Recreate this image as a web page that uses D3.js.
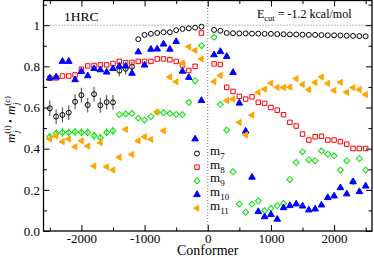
<!DOCTYPE html>
<html>
<head>
<meta charset="utf-8">
<script src="https://cdn.jsdelivr.net/npm/d3@7"></script>
<style>
  body { margin: 0; background: #fff; }
  svg { display: block; }
  text { font-family: "Liberation Serif", "Times New Roman", serif; fill: #000; }
</style>
</head>
<body>
<svg id="chart" width="374" height="256"></svg>
<script>
// conformer index (x), left branch then right branch
const conformers = [-2500, -2400, -2300, -2200, -2100, -2000, -1900, -1800, -1700, -1600,
  -1500, -1400, -1300, -1200, -1100, -1000, -900, -800, -700, -600, -500, -400, -300, -200, -100,
  100, 200, 300, 400, 500, 600, 700, 800, 900, 1000, 1100, 1200, 1300, 1400, 1500,
  1600, 1700, 1800, 1900, 2000, 2100, 2200, 2300, 2400, 2500];

const m7 = [0.596, 0.556, 0.564, 0.575, 0.628, 0.660, 0.612, 0.665, 0.611, 0.626,
  0.625, 0.779, 0.788, 0.798, 0.932, 0.953, 0.958, 0.962, 0.966, 0.966, 0.976, 0.982, 0.985, 0.988, 0.993,
  0.977, 0.973, 0.962, 0.961, 0.960, 0.960, 0.959, 0.959, 0.958, 0.958, 0.957, 0.956, 0.955, 0.955, 0.954,
  0.953, 0.953, 0.952, 0.951, 0.951, 0.950, 0.949, 0.948, 0.947, 0.946];
const m7err = [0.038, 0.036, 0.036, 0.036, 0.036, 0.036, 0.036, 0.036, 0.036, 0.036,
  0.036, 0.028, 0.028, 0.026, null, null, null, null, null, null, null, null, null, null, null,
  null, null, null, null, null, null, null, null, null, null, null, null, null, null, null,
  null, null, null, null, null, null, null, null, null, null];

const m8 = [0.742, 0.744, 0.753, 0.753, 0.758, 0.786, 0.802, 0.804, 0.807, 0.807,
  0.814, 0.824, 0.818, 0.819, 0.824, 0.824, 0.824, 0.836, 0.836, 0.832, 0.824, 0.807, 0.780, 0.800, 0.962,
  0.812, 0.809, 0.698, 0.678, 0.654, 0.641, 0.652, 0.625, 0.620, 0.600, 0.587, 0.565, 0.528, 0.510, 0.471,
  0.442, 0.458, 0.460, 0.442, 0.442, 0.434, 0.422, 0.401, 0.401, 0.401];

const m9 = [0.458, 0.474, 0.479, 0.479, 0.482, 0.479, 0.479, 0.463, 0.453, 0.479,
  0.487, 0.566, 0.569, 0.571, 0.548, 0.539, 0.556, 0.577, 0.575, 0.571, 0.567, 0.565, 0.625, 0.730, 0.901,
  0.942, 0.615, 0.490, 0.288, 0.131, 0.091, 0.130, 0.146, 0.099, 0.110, 0.123, 0.134, 0.250, 0.333, 0.385,
  0.346, 0.341, 0.389, 0.374, 0.366, 0.296, 0.341, 0.240, 0.352, 0.296];
const m9err = [0.02, 0.02, 0.022, 0.02, 0.02, 0.02, 0.02, 0.022, 0.02, 0.02,
  0.02, null, null, null, null, null, null, null, null, null, null, null, null, null, null,
  null, null, null, null, null, null, null, null, null, null, null, null, null, null, null,
  null, null, null, null, null, null, null, null, null, null];

const m10 = [0.743, 0.748, 0.824, 0.824, 0.735, 0.775, 0.754, 0.789, 0.783, 0.772,
  0.789, 0.801, 0.801, 0.766, 0.870, 0.806, 0.883, 0.884, 0.908, 0.883, 0.920, 0.776, 0.746, 0.447, 0.634,
  0.856, 0.872, 0.848, 0.770, 0.621, 0.485, 0.261, 0.094, 0.069, 0.080, 0.057, 0.113, 0.123, 0.131, 0.121,
  0.102, 0.107, 0.126, 0.162, 0.170, 0.210, 0.180, 0.239, 0.191, 0.218];

const m11 = [0.447, 0.461, 0.434, 0.447, 0.409, 0.438, 0.413, 0.316, 0.429, 0.312,
  0.296, 0.358, 0.494, 0.372, 0.438, 0.458, 0.445, 0.579, 0.487, 0.748, 0.725, 0.816, 0.895, 0.877, 0.836,
  0.726, 0.756, 0.634, 0.641, 0.528, 0.467, 0.563, 0.673, 0.689, 0.718, 0.698, 0.698, 0.699, 0.740, 0.712,
  0.687, 0.721, 0.748, 0.717, 0.683, 0.722, 0.674, 0.697, 0.687, 0.663];

const xTicks = [-2000, -1000, 0, 1000, 2000];
const xMinorTicks = [-2500, -1500, -500, 500, 1500, 2500];
const yTicks = [0, 0.2, 0.4, 0.6, 0.8, 1];
const yMinorTicks = [0.1, 0.3, 0.5, 0.7, 0.9, 1.1];
const seriesNames = ["7", "8", "9", "10", "11"];

const svg = d3.select("#chart");
const W = 374, H = 256;
const margin = { top: 0.5, right: 2, bottom: 25, left: 43.5 };

const x = d3.scaleLinear().domain([-2600, 2600]).range([margin.left, W - margin.right]);
const y = d3.scaleLinear().domain([0, 1.12]).range([H - margin.bottom, margin.top]);

// reference lines at x=0 and y=1
svg.append("line")
  .attr("x1", x(0)).attr("x2", x(0)).attr("y1", y(0)).attr("y2", y(1.12))
  .attr("stroke", "#777").attr("stroke-width", 1).attr("stroke-dasharray", "1,2");
svg.append("line")
  .attr("x1", x(-2600)).attr("x2", x(2600)).attr("y1", y(1)).attr("y2", y(1))
  .attr("stroke", "#777").attr("stroke-width", 1).attr("stroke-dasharray", "1,2");

// axes with inward ticks, mirrored on top/right
const axisStyle = g => {
  g.select(".domain").remove();
  g.selectAll("line").attr("stroke", "#000").attr("stroke-width", 1);
  g.selectAll("text").attr("font-size", "13px").attr("font-family", "Liberation Serif");
};
const fmtX = d => d < 0 ? "-" + Math.abs(d) : String(d);

svg.append("g").attr("transform", `translate(0,${y(0)})`)
  .call(d3.axisBottom(x).tickValues(xTicks).tickSize(-6).tickPadding(3).tickFormat(fmtX))
  .call(axisStyle);
svg.append("g").attr("transform", `translate(0,${y(0)})`)
  .call(d3.axisBottom(x).tickValues(xMinorTicks).tickSize(-3.5).tickFormat(""))
  .call(axisStyle);
svg.append("g").attr("transform", `translate(0,${y(1.12)})`)
  .call(d3.axisTop(x).tickValues(xTicks).tickSize(-6).tickFormat(""))
  .call(axisStyle);
svg.append("g").attr("transform", `translate(0,${y(1.12)})`)
  .call(d3.axisTop(x).tickValues(xMinorTicks).tickSize(-3.5).tickFormat(""))
  .call(axisStyle);

svg.append("g").attr("transform", `translate(${x(-2600)},0)`)
  .call(d3.axisLeft(y).tickValues(yTicks).tickSize(-6).tickPadding(3.5).tickFormat(d => d === 1 ? "1" : d3.format(".1f")(d)))
  .call(axisStyle);
svg.append("g").attr("transform", `translate(${x(-2600)},0)`)
  .call(d3.axisLeft(y).tickValues(yMinorTicks).tickSize(-3.5).tickFormat(""))
  .call(axisStyle);
svg.append("g").attr("transform", `translate(${x(2600)},0)`)
  .call(d3.axisRight(y).tickValues(yTicks).tickSize(-6).tickFormat(""))
  .call(axisStyle);
svg.append("g").attr("transform", `translate(${x(2600)},0)`)
  .call(d3.axisRight(y).tickValues(yMinorTicks).tickSize(-3.5).tickFormat(""))
  .call(axisStyle);

// frame
svg.append("rect")
  .attr("x", x(-2600)).attr("y", y(1.12))
  .attr("width", x(2600) - x(-2600)).attr("height", y(0) - y(1.12))
  .attr("fill", "none").attr("stroke", "#000").attr("stroke-width", 1.3);

// error bars
function errorBars(vals, errs, color) {
  const pts = conformers.map((c, i) => ({ c, v: vals[i], e: errs[i] })).filter(d => d.e != null);
  svg.append("g").selectAll("line").data(pts).join("line")
    .attr("x1", d => x(d.c)).attr("x2", d => x(d.c))
    .attr("y1", d => y(d.v - d.e)).attr("y2", d => y(d.v + d.e))
    .attr("stroke", color).attr("stroke-width", 1.1);
}
errorBars(m7, m7err, "#555");
errorBars(m9, m9err, "#44dd44");

const styles = [
  { vals: m7, type: d3.symbolCircle, size: 19, fill: "none", stroke: "#000", rot: 0 },
  { vals: m8, type: d3.symbolSquare, size: 20, fill: "none", stroke: "#ff0000", rot: 0 },
  { vals: m9, type: d3.symbolSquare, size: 17, fill: "none", stroke: "#00e000", rot: 45 },
  { vals: m10, type: d3.symbolTriangle, size: 19, fill: "#0000ff", stroke: "#0000ff", rot: 0 },
  { vals: m11, type: d3.symbolTriangle, size: 16, fill: "#ffa500", stroke: "#ffa500", rot: -90 }
];

styles.forEach(s => {
  const path = d3.symbol().type(s.type).size(s.size)();
  svg.append("g").selectAll("path")
    .data(conformers.map((c, i) => ({ c, v: s.vals[i] })))
    .join("path")
    .attr("d", path)
    .attr("transform", d => `translate(${x(d.c)},${y(d.v)}) rotate(${s.rot})`)
    .attr("fill", s.fill).attr("stroke", s.stroke).attr("stroke-width", 1);
});

// legend
const lg = svg.append("g");
styles.forEach((s, i) => {
  const ly = 153.5 + i * 13.7;
  lg.append("path")
    .attr("d", d3.symbol().type(s.type).size(s.size)())
    .attr("transform", `translate(197,${ly}) rotate(${s.rot})`)
    .attr("fill", s.fill).attr("stroke", s.stroke).attr("stroke-width", 1);
  const t = lg.append("text").attr("x", 210).attr("y", ly + 1.5).attr("font-size", "13px");
  t.append("tspan").text("m");
  t.append("tspan").attr("dy", 4).attr("font-size", "9px").text(seriesNames[i]);
});

// annotations
svg.append("text").attr("x", 64).attr("y", 21).attr("font-size", "13.5px").text("1HRC");
const ec = svg.append("text").attr("x", 257).attr("y", 17.5).attr("font-size", "12px");
ec.append("tspan").text("E");
ec.append("tspan").attr("dy", 3.5).attr("font-size", "8.5px").text("cut");
ec.append("tspan").attr("dy", -3.5).text(" = -1.2 kcal/mol");

// axis titles
svg.append("text").attr("x", x(0)).attr("y", 254.5).attr("text-anchor", "middle")
  .attr("font-size", "14px").text("Conformer");

const yl = svg.append("g").attr("transform", "translate(15,143) rotate(-90)");
yl.append("text").attr("x", 0).attr("y", 0).attr("font-size", "13px").attr("font-style", "italic").text("m");
yl.append("text").attr("x", 9.5).attr("y", -5.5).attr("font-size", "8.5px").text("(i)");
yl.append("text").attr("x", 10).attr("y", 3.5).attr("font-size", "8.5px").attr("font-style", "italic").text("j");
yl.append("text").attr("x", 20).attr("y", -1).attr("font-size", "11px").text("•");
yl.append("text").attr("x", 28).attr("y", 0).attr("font-size", "13px").attr("font-style", "italic").text("m");
yl.append("text").attr("x", 37.5).attr("y", -5.5).attr("font-size", "8.5px").text("(c)");
yl.append("text").attr("x", 38).attr("y", 3.5).attr("font-size", "8.5px").attr("font-style", "italic").text("j");
</script>
</body>
</html>
